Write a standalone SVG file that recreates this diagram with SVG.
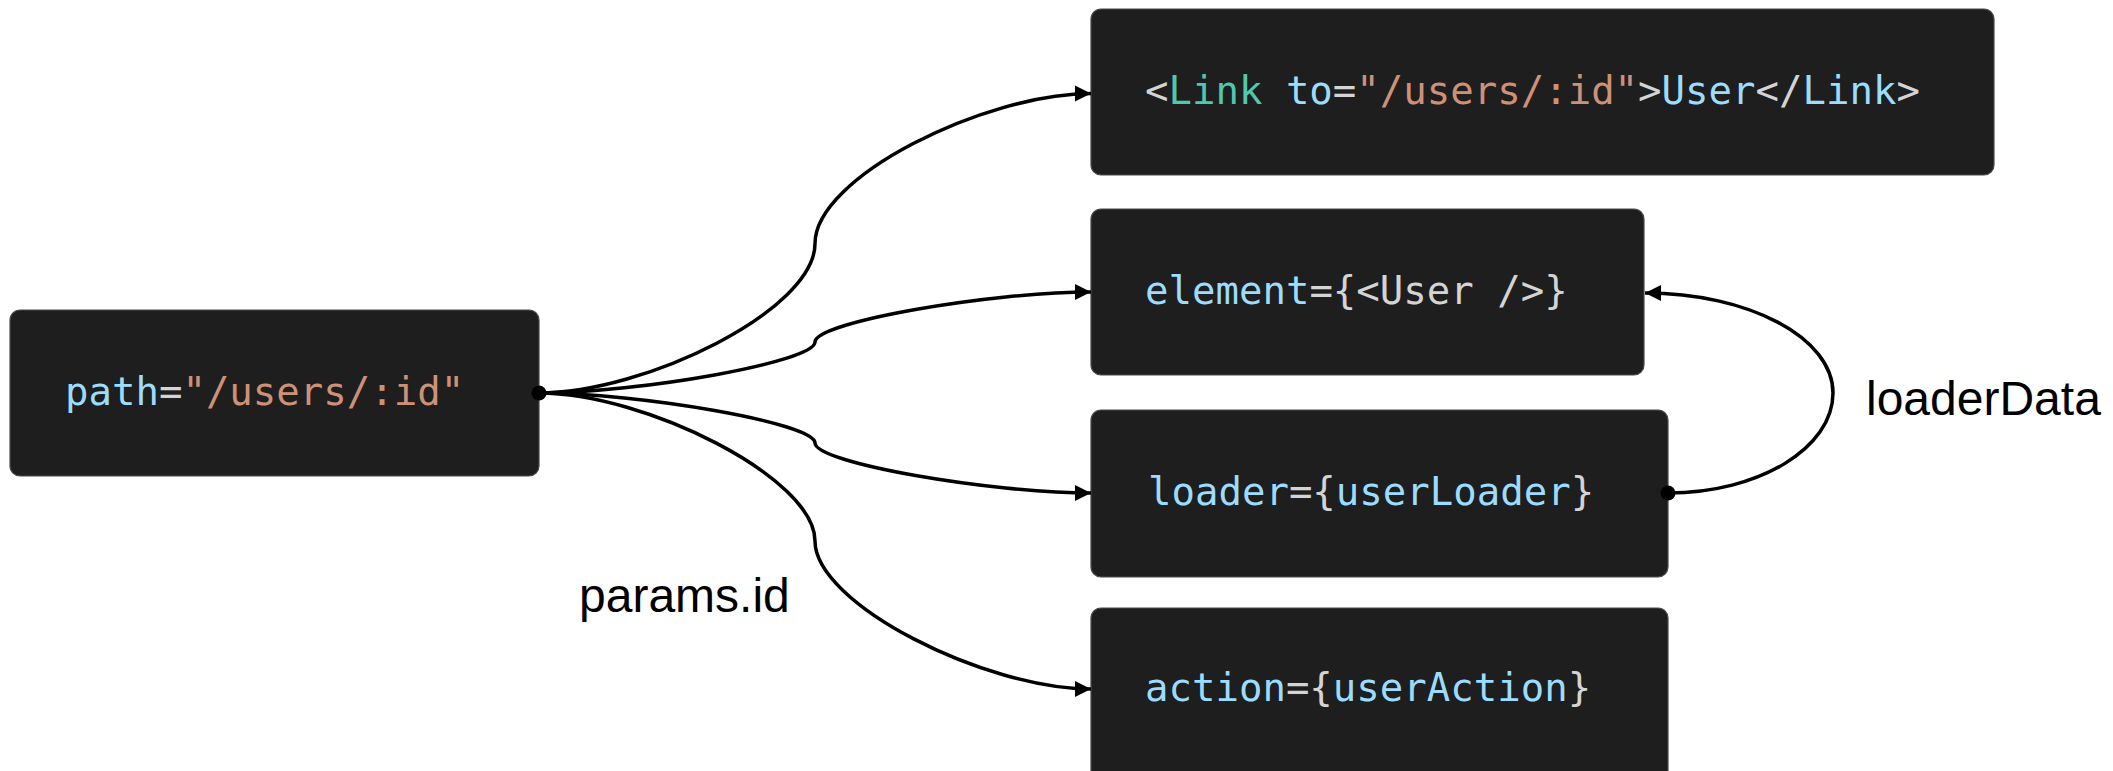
<svg xmlns="http://www.w3.org/2000/svg" width="2113" height="771" viewBox="0 0 2113 771">
  <style>
    .box { fill: #1e1e1e; stroke: #4a4a4a; stroke-width: 1.2; }
    .code { font-family: "DejaVu Sans Mono", "Liberation Mono", monospace; font-size: 39px; }
    .k { fill: #9cdcfe; }
    .s { fill: #ce9178; }
    .p { fill: #d4d4d4; }
    .t { fill: #4ec9b0; }
    .edge { fill: none; stroke: #000; stroke-width: 3.5; }
    .dot { fill: #000; }
    .label { font-family: "Liberation Sans", Arial, sans-serif; font-size: 48px; fill: #000; }
  </style>
  <defs>
    <marker id="arrow" markerUnits="userSpaceOnUse" markerWidth="18" markerHeight="18" refX="16" refY="9" orient="auto">
      <path d="M0,1 L16,9 L0,17 z" fill="#000"/>
    </marker>
  </defs>

  <rect width="2113" height="771" fill="#fff"/>

  <!-- route definition -->
  <g id="node-path">
    <rect class="box" x="10" y="310" width="529" height="166" rx="10"/>
    <text class="code" x="65" y="405"><tspan class="k">path</tspan><tspan class="p">=</tspan><tspan class="s">"/users/:id"</tspan></text>
  </g>

  <!-- link -->
  <g id="node-link">
    <rect class="box" x="1091" y="9" width="903" height="166" rx="10"/>
    <text class="code" x="1145" y="104"><tspan class="p">&lt;</tspan><tspan class="t">Link</tspan><tspan class="k"> to</tspan><tspan class="p">=</tspan><tspan class="s">"/users/:id"</tspan><tspan class="p">&gt;</tspan><tspan class="k">User</tspan><tspan class="p">&lt;/</tspan><tspan class="k">Link</tspan><tspan class="p">&gt;</tspan></text>
  </g>

  <!-- element -->
  <g id="node-element">
    <rect class="box" x="1091" y="209" width="553" height="166" rx="10"/>
    <text class="code" x="1145" y="304"><tspan class="k">element</tspan><tspan class="p">={&lt;User /&gt;}</tspan></text>
  </g>

  <!-- loader -->
  <g id="node-loader">
    <rect class="box" x="1091" y="410" width="577" height="167" rx="10"/>
    <text class="code" x="1148" y="505"><tspan class="k">loader</tspan><tspan class="p">={</tspan><tspan class="k">userLoader</tspan><tspan class="p">}</tspan></text>
  </g>

  <!-- action -->
  <g id="node-action">
    <rect class="box" x="1091" y="608" width="577" height="175" rx="10"/>
    <text class="code" x="1145" y="701"><tspan class="k">action</tspan><tspan class="p">={</tspan><tspan class="k">userAction</tspan><tspan class="p">}</tspan></text>
  </g>

  <!-- connectors -->
  <g id="connectors">
    <path class="edge" marker-end="url(#arrow)" d="M539,393 C645,393 815,310 815,243.5 C815,177 985,93.5 1091,93.5"/>
    <path class="edge" marker-end="url(#arrow)" d="M539,393 C639,393 815,362 815,342 C815,322 991,292 1091,292"/>
    <path class="edge" marker-end="url(#arrow)" d="M539,393 C639,393 815,423 815,443 C815,463 991,493 1091,493"/>
    <path class="edge" marker-end="url(#arrow)" d="M539,393 C645,393 815,478 815,541 C815,604 985,689 1091,689"/>
    <path class="edge" marker-end="url(#arrow)" d="M1668,493 C1759,493 1833,448 1833,393 C1833,338 1749,293 1645,293"/>
    <circle class="dot" cx="539" cy="393" r="7.5"/>
    <circle class="dot" cx="1668" cy="493" r="7.5"/>
    <text class="label" x="579" y="612">params.id</text>
    <text class="label" x="1866" y="415">loaderData</text>
  </g>
</svg>
